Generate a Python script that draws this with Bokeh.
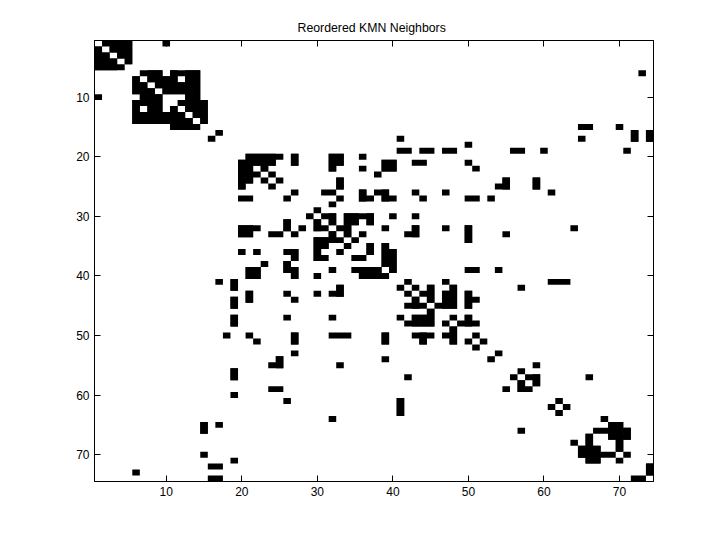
from bokeh.embed import file_html
from bokeh.resources import INLINE
from bokeh.plotting import figure
from bokeh.models import LinearAxis, FixedTicker, Range1d, ColumnDataSource

title_text = "Reordered KMN Neighbors"
tick_values = [10, 20, 30, 40, 50, 60, 70]

row_01 = [2, 3, 4, 5, 10]
row_02 = [1, 3, 4, 5]
row_03 = [1, 2, 4, 5]
row_04 = [1, 2, 3, 5]
row_05 = [1, 2, 3, 4]
row_06 = [7, 8, 9, 11, 12, 13, 14, 73]
row_07 = [6, 8, 9, 10, 11, 13, 14]
row_08 = [6, 7, 9, 10, 11, 12, 13, 14]
row_09 = [6, 7, 8, 10, 11, 12, 13, 14]
row_10 = [1, 7, 8, 9, 13, 14]
row_11 = [6, 7, 8, 9, 12, 13, 14, 15]
row_12 = [6, 8, 9, 11, 13, 14, 15]
row_13 = [6, 7, 8, 9, 10, 11, 12, 14, 15]
row_14 = [6, 7, 8, 9, 10, 11, 12, 13, 15]
row_15 = [11, 12, 13, 14, 65, 66, 70]
row_16 = [17, 72, 74]
row_17 = [16, 41, 65, 72, 74]
row_18 = [50]
row_19 = [41, 42, 44, 45, 47, 48, 56, 57, 60, 71]
row_20 = [21, 22, 23, 24, 25, 27, 32, 33, 36]
row_21 = [20, 21, 22, 23, 24, 27, 32, 33, 39, 40, 43, 44, 50]
row_22 = [20, 21, 23, 32, 36, 39, 40, 51]
row_23 = [20, 21, 22, 24, 38]
row_24 = [20, 21, 23, 25, 33, 55, 59]
row_25 = [20, 24, 33, 54, 55, 59]
row_26 = [27, 31, 32, 36, 38, 39, 43, 47, 61]
row_27 = [20, 21, 26, 33, 36, 37, 39, 40, 44, 50, 51, 53]
row_28 = [32]
row_29 = [30]
row_30 = [29, 31, 32, 34, 35, 36, 37, 40, 43]
row_31 = [26, 30, 32, 34, 35, 37]
row_32 = [20, 21, 22, 26, 28, 30, 31, 33, 34, 39, 43, 47, 50, 64]
row_33 = [20, 21, 24, 25, 27, 32, 34, 36, 42, 43, 50, 55]
row_34 = [30, 31, 32, 33, 35, 50]
row_35 = [30, 31, 34, 37, 39]
row_36 = [20, 22, 26, 27, 30, 33, 37, 39, 40]
row_37 = [27, 30, 31, 35, 36, 39, 40]
row_38 = [23, 26, 39, 40]
row_39 = [21, 22, 26, 27, 32, 35, 36, 37, 38, 40, 50, 51, 54]
row_40 = [21, 22, 27, 30, 36, 37, 38, 39]
row_41 = [17, 19, 42, 47, 61, 62, 63]
row_42 = [19, 33, 41, 43, 45, 48, 57]
row_43 = [21, 26, 30, 32, 33, 42, 44, 45, 47, 48, 50]
row_44 = [19, 21, 27, 43, 45, 47, 48, 50, 51]
row_45 = [19, 42, 43, 44, 46, 47, 48, 50]
row_46 = [45]
row_47 = [19, 26, 32, 41, 43, 44, 45, 48, 50]
row_48 = [19, 42, 43, 44, 45, 47, 49, 50, 51]
row_49 = [48]
row_50 = [18, 21, 27, 32, 33, 34, 39, 43, 44, 45, 47, 48, 51]
row_51 = [22, 27, 39, 44, 48, 50, 52]
row_52 = [51]
row_53 = [27, 54]
row_54 = [25, 39, 53]
row_55 = [24, 25, 33, 59]
row_56 = [19, 57]
row_57 = [19, 42, 56, 58, 59, 66]
row_58 = [57, 59]
row_59 = [24, 25, 55, 57, 58]
row_60 = [19]
row_61 = [26, 41, 62]
row_62 = [41, 61, 63]
row_63 = [41, 62]
row_64 = [32, 68]
row_65 = [15, 17, 69, 70]
row_66 = [15, 57, 67, 68, 69, 70, 71]
row_67 = [66, 69, 70, 71]
row_68 = [64, 66, 70]
row_69 = [65, 66, 67, 70]
row_70 = [15, 65, 66, 67, 68, 69, 71]
row_71 = [19, 66, 67, 70]
row_72 = [16, 17, 74]
row_73 = [6, 74]
row_74 = [16, 17, 72, 73]

rows = [
    row_01, row_02, row_03, row_04, row_05, row_06, row_07, row_08, row_09, row_10,
    row_11, row_12, row_13, row_14, row_15, row_16, row_17, row_18, row_19, row_20,
    row_21, row_22, row_23, row_24, row_25, row_26, row_27, row_28, row_29, row_30,
    row_31, row_32, row_33, row_34, row_35, row_36, row_37, row_38, row_39, row_40,
    row_41, row_42, row_43, row_44, row_45, row_46, row_47, row_48, row_49, row_50,
    row_51, row_52, row_53, row_54, row_55, row_56, row_57, row_58, row_59, row_60,
    row_61, row_62, row_63, row_64, row_65, row_66, row_67, row_68, row_69, row_70,
    row_71, row_72, row_73, row_74,
]


def runs(values):
    """Group sorted integers into (first, last) runs of consecutive values."""
    out = []
    for v in sorted(values):
        if out and v == out[-1][1] + 1:
            out[-1][1] = v
        else:
            out.append([v, v])
    return out


# Adjoining cells are merged both across and down so that they leave no seams.
lefts, rights, tops, bottoms = [], [], [], []
for r, cols in enumerate(rows, start=1):
    for a, b in runs(cols):
        lefts.append(a - 0.5)
        rights.append(b + 0.5)
        tops.append(r - 0.5)
        bottoms.append(r + 0.5)
for c in range(1, 75):
    in_col = [r for r, cols in enumerate(rows, start=1) if c in cols]
    for a, b in runs(in_col):
        if b > a:
            lefts.append(c - 0.5)
            rights.append(c + 0.5)
            tops.append(a - 0.5)
            bottoms.append(b + 0.5)

src = ColumnDataSource(dict(left=lefts, right=rights, top=tops, bottom=bottoms))

p = figure(
    width=712, height=532, output_backend="svg", toolbar_location=None,
    x_range=Range1d(0.5, 74.5), y_range=Range1d(74.5, 0.5),
    min_border_left=94, min_border_right=59, min_border_top=40, min_border_bottom=51,
    x_axis_location="below", y_axis_location="left",
    background_fill_color="white", border_fill_color="white",
    title=title_text,
)
p.quad(left="left", right="right", top="top", bottom="bottom", source=src,
       fill_color="black", line_color=None)

p.grid.visible = False
p.outline_line_color = "black"
p.outline_line_width = 1

p.title.align = "left"
p.title.offset = 203
p.title.text_font = "Liberation Sans"
p.title.text_font_size = "12.3px"
p.title.text_font_style = "normal"
p.title.text_color = "black"
p.title.standoff = 11

p.add_layout(LinearAxis(), "above")
p.add_layout(LinearAxis(), "right")

for ax in p.xaxis + p.yaxis:
    ax.ticker = FixedTicker(ticks=tick_values)
    ax.major_tick_in = 6
    ax.major_tick_out = 0
    ax.minor_tick_in = 0
    ax.minor_tick_out = 0
    ax.axis_line_color = "black"
    ax.axis_line_width = 1
    ax.major_tick_line_color = "black"
    ax.major_tick_line_width = 1
    ax.major_label_text_font = "Liberation Sans"
    ax.major_label_text_font_size = "12px"
    ax.major_label_text_color = "black"
    ax.major_label_standoff = 5

for ax in [p.above[0], p.right[0]]:
    ax.major_label_text_font_size = "0px"
    ax.major_label_text_color = None

open("out.html", "w").write(file_html(p, INLINE))
